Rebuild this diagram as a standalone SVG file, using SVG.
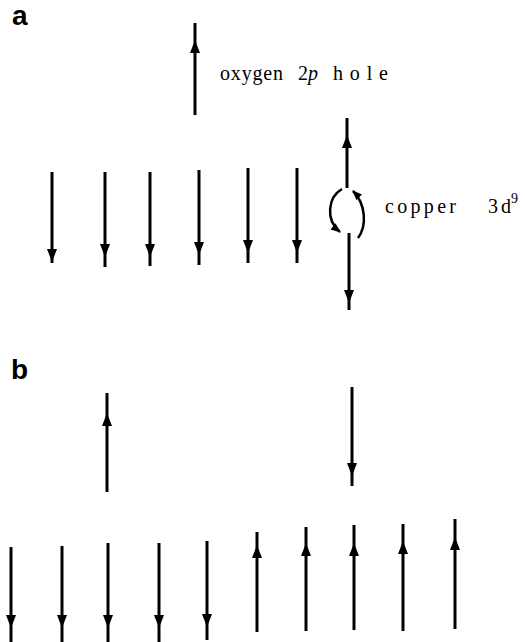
<svg xmlns="http://www.w3.org/2000/svg" width="525" height="642" viewBox="0 0 525 642">
<style>
  .lbl{font-family:"Liberation Sans",Arial,sans-serif;font-weight:bold;font-size:28px;fill:#000}
  .t{font-family:"Liberation Serif","Times New Roman",serif;font-size:20px;fill:#000}
  .sup{font-family:"Liberation Serif","Times New Roman",serif;font-size:14px;fill:#000}
  .spin{fill:none;stroke:#000;stroke-width:3;marker-mid:url(#ah)}
  .curl{fill:none;stroke:#000;stroke-width:2.5;marker-end:url(#ahs)}
</style>
<defs>
  <marker id="ah" viewBox="0 0 13 10" refX="13" refY="5" markerWidth="13" markerHeight="10" orient="auto" markerUnits="userSpaceOnUse">
    <path d="M0,0 L13,5 L0,10 Z" fill="#000"/>
  </marker>
  <marker id="ahs" viewBox="0 0 10 8" refX="9" refY="4" markerWidth="10" markerHeight="8" orient="auto" markerUnits="userSpaceOnUse">
    <path d="M0,0 L10,4 L0,8 Z" fill="#000"/>
  </marker>
</defs>
<rect width="525" height="642" fill="#fff"/>

<g id="panel-a-label"><text class="lbl" x="12" y="25">a</text></g>
<g id="panel-b-label"><text class="lbl" x="11" y="379">b</text></g>

<g id="connectors">
  <!-- panel a -->
  <path id="oxygen-spin" class="spin" d="M195,115 V40 V23"/>
  <path class="spin" d="M52,172 V262 V263"/>
  <path class="spin" d="M105,172 V257 V267"/>
  <path class="spin" d="M150,172 V257 V266"/>
  <path class="spin" d="M199,170 V255 V265"/>
  <path class="spin" d="M248,168 V253 V263"/>
  <path class="spin" d="M297,168 V253 V263"/>
  <path id="copper-up" class="spin" d="M347,188 V135 V118"/>
  <path id="copper-down" class="spin" d="M349,233 V303 V310"/>
  <path class="curl" d="M342,189 C328,197 325,220 340,232"/>
  <path class="curl" d="M358,238 C367,226 366,204 353,191"/>

  <!-- panel b -->
  <path class="spin" d="M107,492 V413 V393"/>
  <path class="spin" d="M352,387 V476 V486"/>

  <path class="spin" d="M11,547 V628 V642"/>
  <path class="spin" d="M62,546 V628 V642"/>
  <path class="spin" d="M108,543 V628 V642"/>
  <path class="spin" d="M159,543 V628 V642"/>
  <path class="spin" d="M207,541 V627 V640"/>
  <path class="spin" d="M257,632 V545 V532"/>
  <path class="spin" d="M306,631 V543 V527"/>
  <path class="spin" d="M354,630 V543 V525"/>
  <path class="spin" d="M403,631 V541 V524"/>
  <path class="spin" d="M455,629 V537 V519"/>
</g>

<g id="oxygen-label">
  <text class="t" x="220" y="80" textLength="63" lengthAdjust="spacing">oxygen</text>
  <text class="t" x="298" y="80">2<tspan font-style="italic">p</tspan></text>
  <text class="t" x="333" y="80" textLength="55" lengthAdjust="spacing">hole</text>
</g>
<g id="copper-label">
  <text class="t" x="385" y="213" textLength="71" lengthAdjust="spacing">copper</text>
  <text class="t" x="488" y="213" textLength="23" lengthAdjust="spacing">3d</text>
  <text class="sup" x="511" y="203">9</text>
</g>
</svg>
